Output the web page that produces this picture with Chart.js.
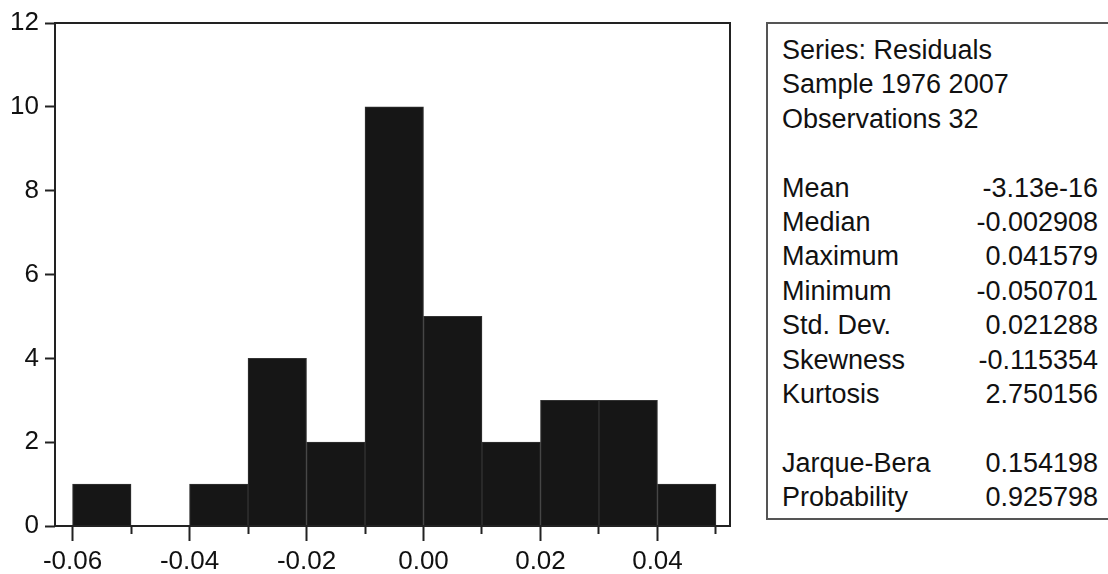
<!DOCTYPE html>
<html>
<head>
<meta charset="utf-8">
<script src="https://cdn.jsdelivr.net/npm/chart.js@4.4.1/dist/chart.umd.min.js"></script>
<style>
  html, body { margin: 0; padding: 0; background: #fff; }
  #wrap { position: relative; width: 1108px; height: 574px; overflow: hidden; }
  #c { position: absolute; left: 0; top: 0; }
  #stats {
    position: absolute; left: 766px; top: 22px; width: 360px; height: 498px;
    border: 2px solid #555; box-sizing: border-box; background: #fff;
  }
  #statsText {
    position: absolute; left: 782px; top: 33px; width: 316px;
    font-family: "Liberation Sans", Arial, sans-serif; font-size: 27px; color: #111;
    line-height: 34.4px;
  }
  .row { display: flex; justify-content: space-between; height: 34.4px; white-space: nowrap; }
</style>
</head>
<body>
<div id="wrap">
  <canvas id="c" width="1108" height="574"></canvas>
  <div id="stats"></div>
  <div id="statsText"></div>
</div>
<script>
// Histogram bins (centres) and counts
const binCenters = [-0.055, -0.045, -0.035, -0.025, -0.015, -0.005, 0.005, 0.015, 0.025, 0.035, 0.045];
const counts     = [1, 0, 1, 4, 2, 10, 5, 2, 3, 3, 1];
const yTicks = [0, 2, 4, 6, 8, 10, 12];

// Summary statistics box
const statLabels = ["Series: Residuals", "Sample 1976 2007", "Observations 32", "",
  "Mean", "Median", "Maximum", "Minimum", "Std. Dev.", "Skewness", "Kurtosis", "",
  "Jarque-Bera", "Probability"];
const statValues = ["", "", "", "",
  "-3.13e-16", "-0.002908", "0.041579", "-0.050701", "0.021288", "-0.115354", "2.750156", "",
  "0.154198", "0.925798"];

const box = document.getElementById('statsText');
statLabels.forEach((l, i) => {
  const r = document.createElement('div');
  r.className = 'row';
  const a = document.createElement('span'); a.textContent = l;
  const b = document.createElement('span'); b.textContent = statValues[i];
  r.appendChild(a); r.appendChild(b);
  box.appendChild(r);
});

const framePlugin = {
  id: 'frame',
  afterDatasetsDraw(chart) {
    const {ctx, chartArea: a} = chart;
    ctx.save();
    ctx.strokeStyle = '#222';
    ctx.lineWidth = 2;
    ctx.strokeRect(a.left, a.top, a.right - a.left, a.bottom - a.top);
    ctx.restore();
  }
};

const FONT = {family: '"Liberation Sans", Arial, sans-serif', size: 26};

new Chart(document.getElementById('c'), {
  type: 'bar',
  data: {
    datasets: [{
      data: binCenters.map((x, i) => ({x: x, y: counts[i]})),
      backgroundColor: '#161616',
      borderColor: '#333',
      borderWidth: (c) => (c.raw && c.raw.y ? 1 : 0),
      barPercentage: 1,
      categoryPercentage: 1
    }]
  },
  options: {
    responsive: false,
    animation: false,
    layout: {padding: {top: 23, right: 378, left: 0, bottom: 0}},
    plugins: {legend: {display: false}, tooltip: {enabled: false}},
    scales: {
      x: {
        type: 'linear',
        min: -0.063,
        max: 0.0524,
        offset: false,
        afterFit(s) { s.height = 48; },
        border: {display: false},
        grid: {
          drawOnChartArea: false, drawTicks: true, tickLength: 15, offset: false,
          tickColor: '#222', tickWidth: 2,
          tickBorderDash: (c) => (Math.round(c.tick.value * 100) % 2 !== 0 ? [8, 40] : [])
        },
        ticks: {
          stepSize: 0.01, includeBounds: false, autoSkip: false, maxRotation: 0,
          color: '#111', font: FONT, padding: 5,
          callback: (v) => {
            const k = Math.round(v * 100);
            return k % 2 === 0 ? (k / 100).toFixed(2) : '';
          }
        }
      },
      y: {
        min: 0, max: 12,
        afterFit(s) { s.width = 55; },
        border: {display: false},
        grid: {drawOnChartArea: false, drawTicks: true, tickLength: 10, tickColor: '#222', tickWidth: 2},
        ticks: {
          stepSize: 2, color: '#111', font: FONT, padding: 6,
          callback: (v) => (yTicks.includes(v) ? String(v) : '')
        }
      }
    }
  },
  plugins: [framePlugin]
});
</script>
</body>
</html>
